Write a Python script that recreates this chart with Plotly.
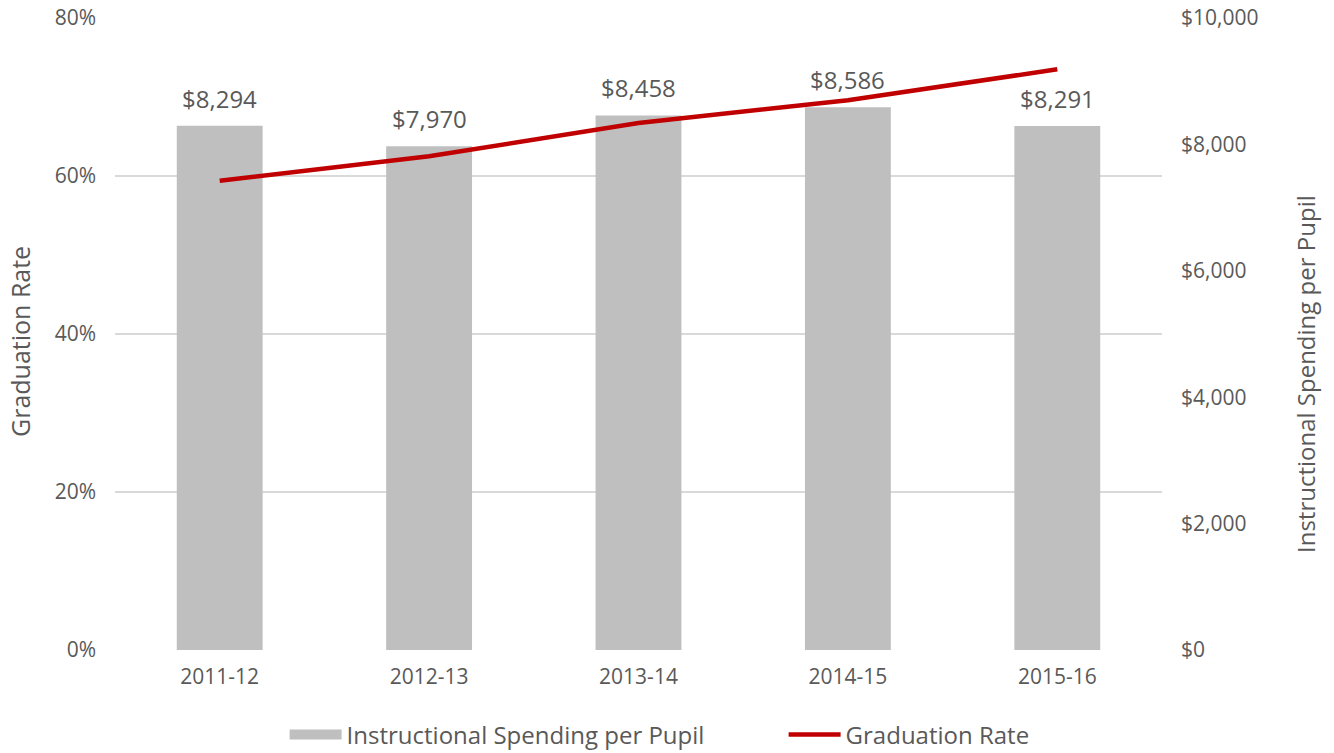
import plotly.graph_objects as go

# School years on the category axis
years = ["2011-12", "2012-13", "2013-14", "2014-15", "2015-16"]
# Instructional spending per pupil (dollars)
spending = [8294, 7970, 8458, 8586, 8291]
# Four-year graduation rate (fraction)
grad_rate = [0.594, 0.625, 0.667, 0.696, 0.735]

pct_ticks = [0, 0.2, 0.4, 0.6, 0.8]
pct_labels = ["0%", "20%", "40%", "60%", "80%"]
dollar_ticks = [0, 2000, 4000, 6000, 8000, 10000]
dollar_labels = ["$0", "$2,000", "$4,000", "$6,000", "$8,000", "$10,000"]

FONT = "Open Sans"
TEXT = "#595959"
BAR = "#bfbfbf"
LINE = "#c00000"

fig = go.Figure()

fig.add_trace(go.Bar(
    x=years, y=spending, name="Instructional Spending per Pupil",
    marker=dict(color=BAR, line=dict(width=0)),
    width=0.41, yaxis="y", showlegend=False,
))
# wide swatch legend entry for the bars
fig.add_trace(go.Scatter(
    x=[None], y=[None], name="Instructional Spending per Pupil", mode="lines",
    line=dict(color=BAR, width=11), yaxis="y",
))

fig.add_trace(go.Scatter(
    x=years, y=grad_rate, name="Graduation Rate", mode="lines",
    line=dict(color=LINE, width=4.5), yaxis="y2",
))

# Dollar labels above each bar
for yr, v in zip(years, spending):
    fig.add_annotation(
        x=yr, y=v, xref="x", yref="y", text=f"${v:,}", showarrow=False,
        yanchor="bottom", yshift=9, font=dict(family=FONT, size=24, color=TEXT),
    )

# Axis titles
fig.add_annotation(
    text="Graduation Rate", textangle=-90, showarrow=False,
    xref="paper", yref="paper", x=(20 - 115) / 1047, y=(650 - 342) / 632,
    xanchor="center", yanchor="middle",
    font=dict(family=FONT, size=25, color=TEXT),
)
fig.add_annotation(
    text="Instructional Spending per Pupil", textangle=-90, showarrow=False,
    xref="paper", yref="paper", x=(1305 - 115) / 1047, y=(650 - 374) / 632,
    xanchor="center", yanchor="middle",
    font=dict(family=FONT, size=24, color=TEXT),
)

fig.update_layout(
    width=1334, height=753,
    margin=dict(l=115, r=172, t=18, b=103),
    paper_bgcolor="white", plot_bgcolor="white",
    font=dict(family=FONT, size=21, color=TEXT),
    showlegend=True,
    legend=dict(
        orientation="h", yref="container", y=0.024, yanchor="middle",
        x=0.162, xanchor="left",
        font=dict(family=FONT, size=24, color=TEXT),
        traceorder="normal", itemwidth=52,
        entrywidth=432, entrywidthmode="pixels",
    ),
    xaxis=dict(
        type="category", showgrid=False, showline=False, ticks="",
        automargin=False,
        tickfont=dict(family=FONT, size=21, color=TEXT), ticklabelstandoff=12,
    ),
    yaxis=dict(
        side="right", range=[0, 10000], tickvals=dollar_ticks,
        ticktext=dollar_labels, showgrid=False, zeroline=False, showline=False,
        ticks="", automargin=False,
        tickfont=dict(family=FONT, size=21, color=TEXT), ticklabelstandoff=18,
    ),
    yaxis2=dict(
        side="left", overlaying="y", range=[0, 0.8], tickvals=pct_ticks,
        ticktext=pct_labels, showgrid=True, gridcolor="#d9d9d9", gridwidth=2,
        zeroline=False, showline=False, ticks="", automargin=False,
        tickfont=dict(family=FONT, size=21, color=TEXT), ticklabelstandoff=18,
    ),
)

fig.write_html("out.html")
